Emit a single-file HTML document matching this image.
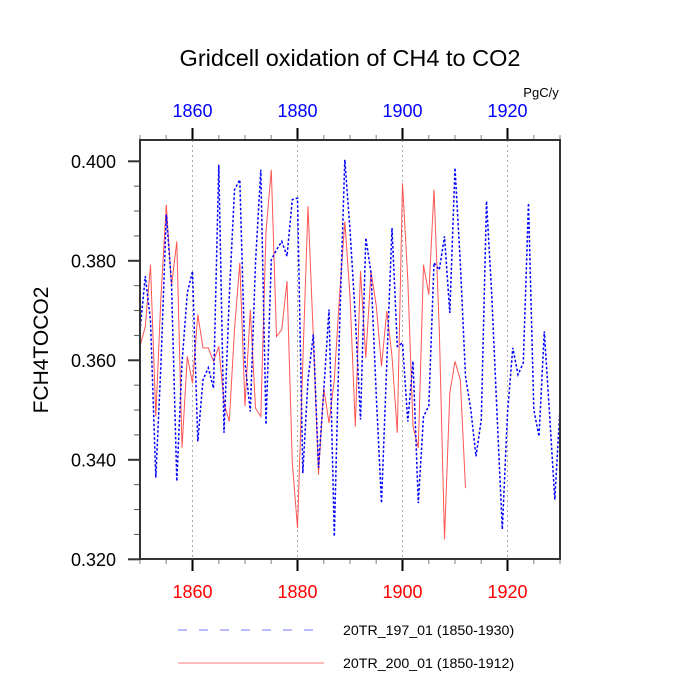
<!DOCTYPE html>
<html><head><meta charset="utf-8"><style>
body{margin:0;background:#fff}
svg{display:block;font-family:"Liberation Sans",sans-serif}
</style></head><body>
<svg id="chart" width="700" height="700" viewBox="0 0 700 700">
<rect width="700" height="700" fill="#fff"/>
<text x="350" y="66" font-size="23.5" text-anchor="middle">Gridcell oxidation of CH4 to CO2</text>
<text x="541" y="97" font-size="13" text-anchor="middle">PgC/y</text>
<text x="48" y="350" font-size="21" text-anchor="middle" transform="rotate(-90 48 350)">FCH4TOCO2</text>
<g id="grid"></g>
<g id="ticks"></g>
<g id="series"></g>
<rect x="140" y="140" width="420" height="419" fill="none" stroke="#333" stroke-width="2"/>
<g>
<line x1="178" y1="630" x2="316" y2="630" stroke="#7777ff" stroke-width="1" stroke-dasharray="9,12"/>
<text x="343" y="635" font-size="14.2">20TR_197_01 (1850-1930)</text>
<line x1="178" y1="663" x2="324" y2="663" stroke="#ff7777" stroke-width="1"/>
<text x="343" y="668" font-size="14.2">20TR_200_01 (1850-1912)</text>
</g>
</svg>
<script>
const blueYears0 = 1850;
const blueValues = [0.366,0.3769,0.368,0.3364,0.3595,0.3893,0.3755,0.3357,0.3595,0.3735,0.3779,0.3437,0.3561,0.3585,0.3544,0.3993,0.3454,0.3729,0.3943,0.3963,0.3595,0.3497,0.3796,0.3983,0.3471,0.3802,0.3822,0.3839,0.3809,0.3923,0.3926,0.3373,0.3561,0.3652,0.3384,0.3541,0.3702,0.3246,0.3662,0.4003,0.3863,0.3688,0.3481,0.3846,0.3776,0.3528,0.3313,0.3595,0.3866,0.3628,0.3635,0.3477,0.3598,0.3313,0.3487,0.3508,0.3796,0.3782,0.3849,0.3695,0.3987,0.3796,0.3568,0.3501,0.3407,0.3481,0.3920,0.3729,0.3494,0.3260,0.3494,0.3625,0.3571,0.3595,0.3916,0.3501,0.3447,0.3658,0.3494,0.3320,0.3504];
const redYears0 = 1850;
const redValues = [0.3628,0.3668,0.3792,0.3487,0.3729,0.3913,0.3749,0.3839,0.3424,0.3608,0.3554,0.3692,0.3625,0.3625,0.3598,0.3628,0.3514,0.3477,0.3662,0.3796,0.3508,0.3702,0.3504,0.3487,0.3859,0.3983,0.3648,0.3662,0.3759,0.3394,0.3263,0.3595,0.3910,0.3648,0.3370,0.3544,0.3474,0.3561,0.3729,0.3879,0.3729,0.3467,0.3779,0.3605,0.3779,0.3709,0.3588,0.3699,0.3608,0.3454,0.3956,0.3762,0.3467,0.3424,0.3792,0.3732,0.3943,0.3662,0.3240,0.3534,0.3598,0.3561,0.3343];
const xTickYears = [1860,1880,1900,1920];
const yTickValues = [0.320,0.340,0.360,0.380,0.400];
const yTickLabels = ["0.320","0.340","0.360","0.380","0.400"];

const NS="http://www.w3.org/2000/svg";
const X0=140,X1=560,XMIN=1850,XMAX=1930;
const Y0=559.3,YMIN=0.320,YPX=99.5/0.02;
const xs=y=>X0+(y-XMIN)*(X1-X0)/(XMAX-XMIN);
const ys=v=>Y0-(v-YMIN)*YPX;
function mk(tag,attrs,parent){const e=document.createElementNS(NS,tag);for(const k in attrs)e.setAttribute(k,attrs[k]);parent.appendChild(e);return e;}
const grid=document.getElementById('grid'),ticks=document.getElementById('ticks'),series=document.getElementById('series');
for(const yr of xTickYears){
  const x=xs(yr);
  const g=mk('line',{x1:x,y1:140,x2:x,y2:559,stroke:'#aaa','stroke-width':1,'stroke-dasharray':'2,3'},grid);
  
  
  const t1=mk('line',{x1:x,y1:128,x2:x,y2:140,stroke:'#000','stroke-width':2},ticks);
  
  
  const t2=mk('line',{x1:x,y1:559,x2:x,y2:571,stroke:'#000','stroke-width':2},ticks);
  
  
  const lt=mk('text',{x:x,y:117,'font-size':18,'text-anchor':'middle',fill:'#0000ff'},ticks);
  lt.textContent=yr;
  
  
  const lb=mk('text',{x:x,y:598,'font-size':18,'text-anchor':'middle',fill:'#ff0000'},ticks);
  lb.textContent=yr;
  
  
}
for(let yr=XMIN;yr<=XMAX;yr+=5){
  if(xTickYears.includes(yr))continue;
  const x=xs(yr);
  const a=mk('line',{x1:x,y1:135,x2:x,y2:140,stroke:'#aaa','stroke-width':1.5},ticks);
  
  
  const b=mk('line',{x1:x,y1:559,x2:x,y2:564,stroke:'#aaa','stroke-width':1.5},ticks);
  
  
}
yTickValues.forEach((v,i)=>{
  const y=ys(v);
  const t=mk('line',{x1:128,y1:y,x2:140,y2:y,stroke:'#333','stroke-width':2},ticks);
  
  
  const l=mk('text',{x:116,y:y+6.5,'font-size':18,'text-anchor':'end'},ticks);
  l.textContent=yTickLabels[i];
  
  
});
for(let v=0.325;v<0.404;v+=0.005){
  if(Math.abs((v*1000)%20)<0.01||Math.abs((v*1000)%20-20)<0.01)continue;
  const y=ys(v);
  const t=mk('line',{x1:134,y1:y,x2:140,y2:y,stroke:'#555','stroke-width':1},ticks);
  
  
}
const rp=redValues.map((v,i)=>xs(redYears0+i).toFixed(1)+','+ys(v).toFixed(1)).join(' ');
const red=mk('polyline',{points:rp,fill:'none',stroke:'#ff5555','stroke-width':1},series);


const bp=blueValues.map((v,i)=>xs(blueYears0+i).toFixed(1)+','+ys(v).toFixed(1)).join(' ');
const blue=mk('polyline',{points:bp,fill:'none',stroke:'#0000ff','stroke-width':1.5,'stroke-dasharray':'2.5,2'},series);


</script>
</body></html>
